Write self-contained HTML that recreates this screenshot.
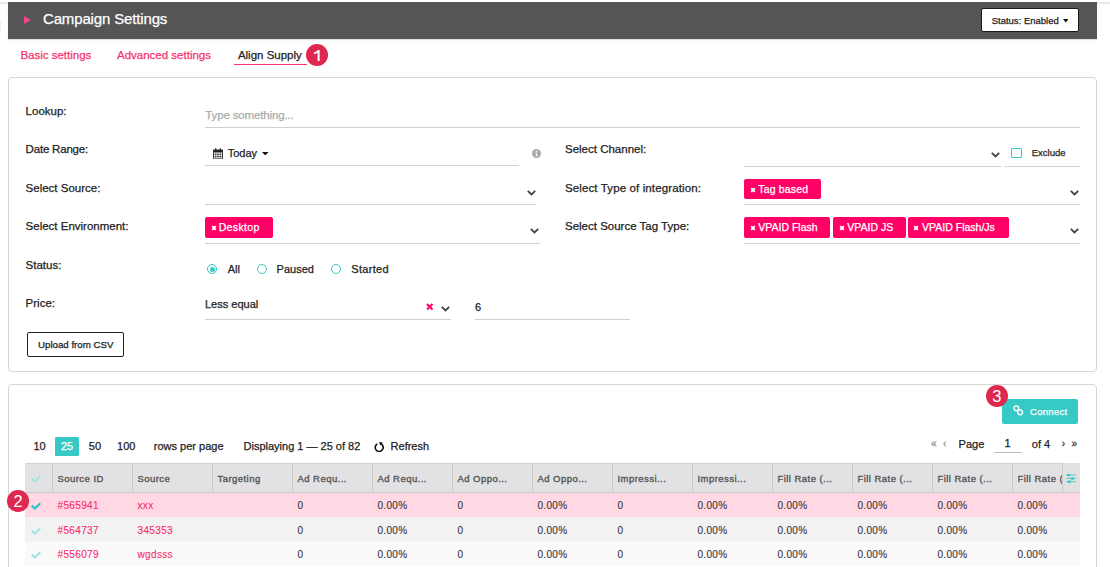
<!DOCTYPE html>
<html><head><meta charset="utf-8"><title>Campaign Settings</title>
<style>
html,body{margin:0;padding:0;background:#fff;width:1110px;height:567px;overflow:hidden;position:relative;font-family:"Liberation Sans",sans-serif}
.t{position:absolute;line-height:1;white-space:nowrap}
.r{position:absolute}
.badge{position:absolute;background:#dd2850;color:#fff;border-radius:50%;text-align:center;font-size:15px;font-weight:bold;font-family:"Liberation Sans",sans-serif}
</style></head><body>
<div class="r" style="left:0px;top:2px;width:1110px;height:3px;background:linear-gradient(#e3e3e3,#fbfbfb)"></div>
<div class="r" style="left:0px;top:20px;width:1px;height:12px;background:#f0f0f0"></div>
<div class="r" style="left:8px;top:2px;width:1089px;height:36.5px;background:#555;box-shadow:0 1px 1px rgba(0,0,0,0.12)"></div>
<svg class="r" style="left:24px;top:16px" width="7" height="8" viewBox="0 0 7 8"><path d="M0 0L7 4L0 8Z" fill="#f0468c"/></svg>
<div class="t" style="left:43px;top:11px;font-size:15px;color:#fff;font-weight:normal;-webkit-text-stroke:0.25px #fff;letter-spacing:-0.15px">Campaign Settings</div>
<div class="r" style="left:981px;top:8px;width:97.5px;height:23.5px;background:#fff;border:1.5px solid #1a1a1a;border-radius:2px;box-sizing:border-box"></div>
<div class="t" style="left:991.7px;top:16px;font-size:9.5px;color:#222;font-weight:normal;-webkit-text-stroke:0.25px #222;">Status: Enabled</div>
<svg class="r" style="left:1062.5px;top:19px" width="5.5" height="4" viewBox="0 0 5.5 4"><path d="M0 0H5.5L2.75 3.5Z" fill="#111"/></svg>
<div class="t" style="left:20.4px;top:50px;font-size:11.5px;color:#f5336f;font-weight:normal;-webkit-text-stroke:0.25px #f5336f;">Basic settings</div>
<div class="t" style="left:117px;top:50px;font-size:11.5px;color:#f5336f;font-weight:normal;-webkit-text-stroke:0.25px #f5336f;">Advanced settings</div>
<div class="t" style="left:237.9px;top:50px;font-size:11.5px;color:#222;font-weight:normal;-webkit-text-stroke:0.25px #222;">Align Supply</div>
<div class="r" style="left:234px;top:63.5px;width:73px;height:1.5px;background:#f5336f"></div>
<div class="r" style="left:306.0px;top:44.0px;width:22px;height:22px;background:#dd2850;border-radius:50%"></div>
<div class="t" style="left:307px;width:20px;text-align:center;top:47px;font-size:16.5px;color:#fff"></div>
<svg class="r" style="left:312px;top:49px" width="10" height="13" viewBox="0 0 10 13"><path d="M6.6 1 V12" stroke="#fff" stroke-width="2"/><path d="M7.2 0.9 L1.6 3.8 L2.3 5.2 L6.2 3.4Z" fill="#fff"/></svg>
<div class="r" style="left:8px;top:77px;width:1089px;height:295px;border:1px solid #d6d6d6;border-radius:4px;box-sizing:border-box"></div>
<div class="t" style="left:25.6px;top:106px;font-size:11.5px;color:#222;font-weight:normal;-webkit-text-stroke:0.25px #222;">Lookup:</div>
<div class="t" style="left:25.6px;top:144px;font-size:11.5px;color:#222;font-weight:normal;-webkit-text-stroke:0.25px #222;letter-spacing:-0.2px">Date Range:</div>
<div class="t" style="left:25.6px;top:183px;font-size:11.5px;color:#222;font-weight:normal;-webkit-text-stroke:0.25px #222;">Select Source:</div>
<div class="t" style="left:25.6px;top:221px;font-size:11.5px;color:#222;font-weight:normal;-webkit-text-stroke:0.25px #222;">Select Environment:</div>
<div class="t" style="left:25.6px;top:260px;font-size:11.5px;color:#222;font-weight:normal;-webkit-text-stroke:0.25px #222;">Status:</div>
<div class="t" style="left:25.6px;top:298px;font-size:11.5px;color:#222;font-weight:normal;-webkit-text-stroke:0.25px #222;">Price:</div>
<div class="t" style="left:565px;top:144px;font-size:11.5px;color:#222;font-weight:normal;-webkit-text-stroke:0.25px #222;">Select Channel:</div>
<div class="t" style="left:565px;top:183px;font-size:11.5px;color:#222;font-weight:normal;-webkit-text-stroke:0.25px #222;letter-spacing:0.12px">Select Type of integration:</div>
<div class="t" style="left:565px;top:221px;font-size:11.5px;color:#222;font-weight:normal;-webkit-text-stroke:0.25px #222;">Select Source Tag Type:</div>
<div class="r" style="left:205px;top:127px;width:875px;height:1px;background:#d0d0d0"></div>
<div class="t" style="left:205.3px;top:110px;font-size:11.5px;color:#aaa;font-weight:normal;-webkit-text-stroke:0.25px #aaa;letter-spacing:-0.15px">Type something...</div>
<div class="r" style="left:205px;top:165px;width:314px;height:1px;background:#d0d0d0"></div>
<svg class="r" style="left:213px;top:147.5px" width="10" height="11.5" viewBox="0 0 10 11.5"><rect x="0.5" y="2" width="9" height="9" fill="none" stroke="#333" stroke-width="0.9"/><rect x="0.5" y="2" width="9" height="2.4" fill="#222"/><path d="M0.5 6.3H9.5M0.5 8.6H9.5M2.75 4.2V11M5 4.2V11M7.25 4.2V11" stroke="#444" stroke-width="0.7"/><path d="M2.7 0.3V2.6M7.3 0.3V2.6" stroke="#222" stroke-width="1.3"/></svg>
<div class="t" style="left:227.7px;top:148px;font-size:11px;color:#222;font-weight:normal;-webkit-text-stroke:0.25px #222;">Today</div>
<svg class="r" style="left:262.2px;top:151.9px" width="6.5" height="3.5" viewBox="0 0 6.5 3.5"><path d="M0 0H6.5L3.25 3.5Z" fill="#111"/></svg>
<svg class="r" style="left:531.8px;top:148.9px" width="9" height="9" viewBox="0 0 9 9"><circle cx="4.5" cy="4.5" r="4.5" fill="#aaa"/><path d="M3.5 3.6H5.1V6.6H5.6V7.3H3.4V6.6H3.9V4.3H3.5Z" fill="#f4f4f4"/><circle cx="4.5" cy="2.3" r="0.8" fill="#f4f4f4"/></svg>
<div class="r" style="left:744px;top:166px;width:257px;height:1px;background:#d0d0d0"></div>
<svg class="r" style="left:990.0px;top:150.8px" width="11" height="7.2" viewBox="-1 -1 11 7.2"><path d="M0.8 0.8 L4.5 4.4 L8.2 0.8" fill="none" stroke="#444" stroke-width="1.8"/></svg>
<div class="r" style="left:1011px;top:148.3px;width:11px;height:10.0px;border:1px solid #36c9c6;border-radius:1px;box-sizing:border-box"></div>
<div class="t" style="left:1031.7px;top:148px;font-size:9.5px;color:#222;font-weight:normal;-webkit-text-stroke:0.25px #222;">Exclude</div>
<div class="r" style="left:1005px;top:166px;width:75px;height:1px;background:#d0d0d0"></div>
<div class="r" style="left:205px;top:204px;width:331px;height:1px;background:#d0d0d0"></div>
<svg class="r" style="left:525.5px;top:188.6px" width="11" height="7.2" viewBox="-1 -1 11 7.2"><path d="M0.8 0.8 L4.5 4.4 L8.2 0.8" fill="none" stroke="#444" stroke-width="1.8"/></svg>
<div class="r" style="left:205px;top:243px;width:335px;height:1px;background:#d0d0d0"></div>
<svg class="r" style="left:529.2px;top:227.1px" width="11" height="7.2" viewBox="-1 -1 11 7.2"><path d="M0.8 0.8 L4.5 4.4 L8.2 0.8" fill="none" stroke="#444" stroke-width="1.8"/></svg>
<div class="r" style="left:205.2px;top:217.3px;width:67.80000000000001px;height:20.599999999999994px;background:#ff0066;border-radius:2px"></div>
<svg class="r" style="left:210.5px;top:225.20000000000002px" width="6" height="6" viewBox="0 0 6 6"><path d="M1.2 1.2L4.8 4.8M4.8 1.2L1.2 4.8" stroke="#fff" stroke-width="1.9"/></svg>
<div class="t" style="left:218.7px;top:222px;font-size:10.5px;color:#fff;font-weight:normal;-webkit-text-stroke:0.25px #fff;letter-spacing:0.35px">Desktop</div>
<div class="r" style="left:744px;top:204px;width:336px;height:1px;background:#d0d0d0"></div>
<svg class="r" style="left:1068.5px;top:188.8px" width="11" height="7.2" viewBox="-1 -1 11 7.2"><path d="M0.8 0.8 L4.5 4.4 L8.2 0.8" fill="none" stroke="#444" stroke-width="1.8"/></svg>
<div class="r" style="left:744.2px;top:179.2px;width:76.59999999999991px;height:19.700000000000017px;background:#ff0066;border-radius:2px"></div>
<svg class="r" style="left:749.5px;top:186.65px" width="6" height="6" viewBox="0 0 6 6"><path d="M1.2 1.2L4.8 4.8M4.8 1.2L1.2 4.8" stroke="#fff" stroke-width="1.9"/></svg>
<div class="t" style="left:758.3px;top:184px;font-size:10.5px;color:#fff;font-weight:normal;-webkit-text-stroke:0.25px #fff;letter-spacing:0.17px">Tag based</div>
<div class="r" style="left:744px;top:243px;width:336px;height:1px;background:#d0d0d0"></div>
<svg class="r" style="left:1068.5px;top:227.20000000000002px" width="11" height="7.2" viewBox="-1 -1 11 7.2"><path d="M0.8 0.8 L4.5 4.4 L8.2 0.8" fill="none" stroke="#444" stroke-width="1.8"/></svg>
<div class="r" style="left:744.2px;top:217.3px;width:85.39999999999998px;height:20.399999999999977px;background:#ff0066;border-radius:2px"></div>
<svg class="r" style="left:749.5px;top:225.1px" width="6" height="6" viewBox="0 0 6 6"><path d="M1.2 1.2L4.8 4.8M4.8 1.2L1.2 4.8" stroke="#fff" stroke-width="1.9"/></svg>
<div class="t" style="left:758.3px;top:222px;font-size:10.5px;color:#fff;font-weight:normal;-webkit-text-stroke:0.25px #fff;letter-spacing:0px">VPAID Flash</div>
<div class="r" style="left:833.2px;top:217.3px;width:72.59999999999991px;height:20.399999999999977px;background:#ff0066;border-radius:2px"></div>
<svg class="r" style="left:838.5px;top:225.1px" width="6" height="6" viewBox="0 0 6 6"><path d="M1.2 1.2L4.8 4.8M4.8 1.2L1.2 4.8" stroke="#fff" stroke-width="1.9"/></svg>
<div class="t" style="left:847.3px;top:222px;font-size:10.5px;color:#fff;font-weight:normal;-webkit-text-stroke:0.25px #fff;letter-spacing:0px">VPAID JS</div>
<div class="r" style="left:908px;top:217.3px;width:100.70000000000005px;height:20.399999999999977px;background:#ff0066;border-radius:2px"></div>
<svg class="r" style="left:913.3px;top:225.1px" width="6" height="6" viewBox="0 0 6 6"><path d="M1.2 1.2L4.8 4.8M4.8 1.2L1.2 4.8" stroke="#fff" stroke-width="1.9"/></svg>
<div class="t" style="left:922.1px;top:222px;font-size:10.5px;color:#fff;font-weight:normal;-webkit-text-stroke:0.25px #fff;letter-spacing:0px">VPAID Flash/Js</div>
<div class="r" style="left:207.0px;top:264.0px;width:8.2px;height:8.2px;border:1.4px solid #36c9c6;border-radius:50%"></div>
<div class="r" style="left:209.9px;top:266.9px;width:5.2px;height:5.2px;background:#36c9c6;border-radius:50%"></div>
<div class="r" style="left:257.0px;top:264.0px;width:8.2px;height:8.2px;border:1.4px solid #36c9c6;border-radius:50%"></div>
<div class="r" style="left:331.0px;top:264.0px;width:8.2px;height:8.2px;border:1.4px solid #36c9c6;border-radius:50%"></div>
<div class="t" style="left:227.7px;top:264px;font-size:11px;color:#222;font-weight:normal;-webkit-text-stroke:0.25px #222;">All</div>
<div class="t" style="left:276.6px;top:264px;font-size:11px;color:#222;font-weight:normal;-webkit-text-stroke:0.25px #222;">Paused</div>
<div class="t" style="left:351.3px;top:264px;font-size:11px;color:#222;font-weight:normal;-webkit-text-stroke:0.25px #222;letter-spacing:0.3px">Started</div>
<div class="t" style="left:205px;top:299px;font-size:11px;color:#222;font-weight:normal;-webkit-text-stroke:0.25px #222;">Less equal</div>
<div class="r" style="left:205px;top:319px;width:246px;height:1px;background:#d0d0d0"></div>
<svg class="r" style="left:425.5px;top:303px" width="7.5" height="7.5" viewBox="0 0 7.5 7.5"><path d="M1 1L6.5 6.5M6.5 1L1 6.5" stroke="#ff0066" stroke-width="2"/></svg>
<svg class="r" style="left:439.7px;top:304.9px" width="11" height="7.2" viewBox="-1 -1 11 7.2"><path d="M0.8 0.8 L4.5 4.4 L8.2 0.8" fill="none" stroke="#444" stroke-width="1.8"/></svg>
<div class="t" style="left:475px;top:302px;font-size:11px;color:#222;font-weight:normal;-webkit-text-stroke:0.25px #222;">6</div>
<div class="r" style="left:475px;top:319px;width:155px;height:1px;background:#d0d0d0"></div>
<div class="r" style="left:27px;top:332px;width:97px;height:25px;border:1.5px solid #222;border-radius:2px;box-sizing:border-box"></div>
<div class="t" style="left:38px;top:340px;font-size:9.7px;color:#222;font-weight:normal;-webkit-text-stroke:0.25px #222;">Upload from CSV</div>
<div class="r" style="left:8px;top:384px;width:1089px;height:216px;border:1px solid #d6d6d6;border-radius:4px;box-sizing:border-box"></div>
<div class="r" style="left:1002px;top:399px;width:76px;height:25px;background:#36c9c6;border-radius:2px"></div>
<svg class="r" style="left:1012.5px;top:405px" width="11" height="11" viewBox="0 0 11 11"><circle cx="3.3" cy="3.3" r="2.4" fill="none" stroke="#fff" stroke-width="1.4"/><circle cx="7.1" cy="7.3" r="2.4" fill="none" stroke="#fff" stroke-width="1.4"/></svg>
<div class="t" style="left:1030px;top:407px;font-size:9.5px;color:#fff;font-weight:normal;-webkit-text-stroke:0.25px #fff;letter-spacing:0.3px">Connect</div>
<div class="r" style="left:985.8px;top:385.0px;width:22px;height:22px;background:#dd2850;border-radius:50%"></div>
<div class="t" style="left:986.8px;width:20px;text-align:center;top:388px;font-size:16.5px;color:#fff">3</div>
<div class="t" style="left:33.5px;top:441px;font-size:11px;color:#222;font-weight:normal;-webkit-text-stroke:0.25px #222;">10</div>
<div class="r" style="left:55.3px;top:437.3px;width:23.700000000000003px;height:18.5px;background:#36c9c6;border-radius:1px"></div>
<div class="t" style="left:61px;top:441px;font-size:11px;color:#fff;font-weight:normal;-webkit-text-stroke:0.25px #fff;">25</div>
<div class="t" style="left:88.8px;top:441px;font-size:11px;color:#222;font-weight:normal;-webkit-text-stroke:0.25px #222;">50</div>
<div class="t" style="left:117.1px;top:441px;font-size:11px;color:#222;font-weight:normal;-webkit-text-stroke:0.25px #222;">100</div>
<div class="t" style="left:153.8px;top:441px;font-size:11px;color:#222;font-weight:normal;-webkit-text-stroke:0.25px #222;">rows per page</div>
<div class="t" style="left:243.5px;top:441px;font-size:11px;color:#222;font-weight:normal;-webkit-text-stroke:0.25px #222;">Displaying 1 &#8212; 25 of 82</div>
<svg class="r" style="left:373.5px;top:441.5px" width="11" height="10.5" viewBox="0 0 11 10.5"><path d="M6.2 1.6 A4 4 0 1 1 3.2 2.0" fill="none" stroke="#111" stroke-width="1.6"/><path d="M5.2 0 L8.8 0.6 L6.2 3.6Z" fill="#111"/></svg>
<div class="t" style="left:390.6px;top:441px;font-size:11px;color:#222;font-weight:normal;-webkit-text-stroke:0.25px #222;">Refresh</div>
<div class="t" style="left:931px;top:439px;font-size:10px;color:#888;font-weight:normal;-webkit-text-stroke:0.25px #888;">&#171;</div>
<div class="t" style="left:943px;top:439px;font-size:10px;color:#888;font-weight:normal;-webkit-text-stroke:0.25px #888;">&#8249;</div>
<div class="t" style="left:958.6px;top:439px;font-size:11px;color:#222;font-weight:normal;-webkit-text-stroke:0.25px #222;">Page</div>
<div class="t" style="left:1004.5px;top:438px;font-size:11px;color:#222;font-weight:normal;-webkit-text-stroke:0.25px #222;">1</div>
<div class="r" style="left:994px;top:452px;width:28px;height:1px;background:#bbb"></div>
<div class="t" style="left:1031.8px;top:439px;font-size:11px;color:#222;font-weight:normal;-webkit-text-stroke:0.25px #222;">of 4</div>
<div class="t" style="left:1061.7px;top:439px;font-size:10px;color:#333;font-weight:normal;-webkit-text-stroke:0.25px #333;">&#8250;</div>
<div class="t" style="left:1071.6px;top:439px;font-size:10px;color:#333;font-weight:normal;-webkit-text-stroke:0.25px #333;">&#187;</div>
<div class="r" style="left:25px;top:463px;width:1055px;height:30px;background:#e2e2e4;border-top:1px solid #d2d2d4;border-bottom:1px solid #c9c9cb;box-sizing:border-box"></div>
<div class="r" style="left:52.0px;top:463px;width:1.0px;height:30px;background:#c9c9cb"></div>
<div class="r" style="left:132.0px;top:463px;width:1.0px;height:30px;background:#c9c9cb"></div>
<div class="r" style="left:212.0px;top:463px;width:1.0px;height:30px;background:#c9c9cb"></div>
<div class="r" style="left:292.0px;top:463px;width:1.0px;height:30px;background:#c9c9cb"></div>
<div class="r" style="left:372.0px;top:463px;width:1.0px;height:30px;background:#c9c9cb"></div>
<div class="r" style="left:452.0px;top:463px;width:1.0px;height:30px;background:#c9c9cb"></div>
<div class="r" style="left:532.0px;top:463px;width:1.0px;height:30px;background:#c9c9cb"></div>
<div class="r" style="left:612.0px;top:463px;width:1.0px;height:30px;background:#c9c9cb"></div>
<div class="r" style="left:692.0px;top:463px;width:1.0px;height:30px;background:#c9c9cb"></div>
<div class="r" style="left:772.0px;top:463px;width:1.0px;height:30px;background:#c9c9cb"></div>
<div class="r" style="left:852.0px;top:463px;width:1.0px;height:30px;background:#c9c9cb"></div>
<div class="r" style="left:932.0px;top:463px;width:1.0px;height:30px;background:#c9c9cb"></div>
<div class="r" style="left:1012.0px;top:463px;width:1.0px;height:30px;background:#c9c9cb"></div>
<div class="r" style="left:1062.0px;top:463px;width:1.0px;height:30px;background:#c9c9cb"></div>
<div class="r" style="left:1063px;top:463px;width:17px;height:29px;background:#e2e2e4"></div>
<div class="t" style="left:57.5px;top:474px;font-size:9.5px;color:#555;font-weight:normal;-webkit-text-stroke:0.25px #555;letter-spacing:0.45px;-webkit-text-stroke:0.35px #555">Source ID</div>
<div class="t" style="left:137.5px;top:474px;font-size:9.5px;color:#555;font-weight:normal;-webkit-text-stroke:0.25px #555;letter-spacing:0.45px;-webkit-text-stroke:0.35px #555">Source</div>
<div class="t" style="left:217.5px;top:474px;font-size:9.5px;color:#555;font-weight:normal;-webkit-text-stroke:0.25px #555;letter-spacing:0.45px;-webkit-text-stroke:0.35px #555">Targeting</div>
<div class="t" style="left:297.5px;top:474px;font-size:9.5px;color:#555;font-weight:normal;-webkit-text-stroke:0.25px #555;letter-spacing:0.45px;-webkit-text-stroke:0.35px #555">Ad Requ...</div>
<div class="t" style="left:377.5px;top:474px;font-size:9.5px;color:#555;font-weight:normal;-webkit-text-stroke:0.25px #555;letter-spacing:0.45px;-webkit-text-stroke:0.35px #555">Ad Requ...</div>
<div class="t" style="left:457.5px;top:474px;font-size:9.5px;color:#555;font-weight:normal;-webkit-text-stroke:0.25px #555;letter-spacing:0.45px;-webkit-text-stroke:0.35px #555">Ad Oppo...</div>
<div class="t" style="left:537.5px;top:474px;font-size:9.5px;color:#555;font-weight:normal;-webkit-text-stroke:0.25px #555;letter-spacing:0.45px;-webkit-text-stroke:0.35px #555">Ad Oppo...</div>
<div class="t" style="left:617.5px;top:474px;font-size:9.5px;color:#555;font-weight:normal;-webkit-text-stroke:0.25px #555;letter-spacing:0.45px;-webkit-text-stroke:0.35px #555">Impressi...</div>
<div class="t" style="left:697.5px;top:474px;font-size:9.5px;color:#555;font-weight:normal;-webkit-text-stroke:0.25px #555;letter-spacing:0.45px;-webkit-text-stroke:0.35px #555">Impressi...</div>
<div class="t" style="left:777.5px;top:474px;font-size:9.5px;color:#555;font-weight:normal;-webkit-text-stroke:0.25px #555;letter-spacing:0.45px;-webkit-text-stroke:0.35px #555">Fill Rate (...</div>
<div class="t" style="left:857.5px;top:474px;font-size:9.5px;color:#555;font-weight:normal;-webkit-text-stroke:0.25px #555;letter-spacing:0.45px;-webkit-text-stroke:0.35px #555">Fill Rate (...</div>
<div class="t" style="left:937.5px;top:474px;font-size:9.5px;color:#555;font-weight:normal;-webkit-text-stroke:0.25px #555;letter-spacing:0.45px;-webkit-text-stroke:0.35px #555">Fill Rate (...</div>
<div class="r" style="left:1017.5px;top:470px;width:44px;height:16px;overflow:hidden"><div class="t" style="left:0;top:4px;font-size:9.5px;color:#555;letter-spacing:0.45px;-webkit-text-stroke:0.35px #555">Fill Rate (...</div></div>
<svg class="r" style="left:31.2px;top:474.5px" width="10" height="8" viewBox="0 0 10 8"><path d="M0.8 3.6 L3.8 6.6 L9.3 1.2" fill="none" stroke="#a9e2e2" stroke-width="2.2"/></svg>
<svg class="r" style="left:1066px;top:474px" width="10" height="9" viewBox="0 0 10 9"><path d="M0 1H10M0 4.5H10M0 7.7H10" stroke="#36c9c6" stroke-width="1" opacity="0.8"/><circle cx="2.8" cy="1" r="1.5" fill="#36c9c6"/><circle cx="6.3" cy="4.5" r="1.5" fill="#36c9c6"/><circle cx="3.4" cy="7.7" r="1.5" fill="#36c9c6"/></svg>
<div class="r" style="left:25px;top:492.8px;width:1055px;height:24.400000000000034px;background:#ffd8e4"></div>
<svg class="r" style="left:31.2px;top:502.1px" width="10" height="8" viewBox="0 0 10 8"><path d="M0.8 3.6 L3.8 6.6 L9.3 1.2" fill="none" stroke="#2fc2c2" stroke-width="2.2"/></svg>
<div class="t" style="left:57.5px;top:501px;font-size:10px;color:#f72a6e;font-weight:normal;-webkit-text-stroke:0.25px #f72a6e;letter-spacing:0.35px;-webkit-text-stroke:0.1px #f72a6e">#565941</div>
<div class="t" style="left:137.5px;top:501px;font-size:10px;color:#f72a6e;font-weight:normal;-webkit-text-stroke:0.25px #f72a6e;letter-spacing:0.35px;-webkit-text-stroke:0.1px #f72a6e">xxx</div>
<div class="t" style="left:297.5px;top:501px;font-size:10px;color:#333;font-weight:normal;-webkit-text-stroke:0.25px #333;letter-spacing:0.3px;-webkit-text-stroke:0.1px #333">0</div>
<div class="t" style="left:377.5px;top:501px;font-size:10px;color:#333;font-weight:normal;-webkit-text-stroke:0.25px #333;letter-spacing:0.3px;-webkit-text-stroke:0.1px #333">0.00%</div>
<div class="t" style="left:457.5px;top:501px;font-size:10px;color:#333;font-weight:normal;-webkit-text-stroke:0.25px #333;letter-spacing:0.3px;-webkit-text-stroke:0.1px #333">0</div>
<div class="t" style="left:537.5px;top:501px;font-size:10px;color:#333;font-weight:normal;-webkit-text-stroke:0.25px #333;letter-spacing:0.3px;-webkit-text-stroke:0.1px #333">0.00%</div>
<div class="t" style="left:617.5px;top:501px;font-size:10px;color:#333;font-weight:normal;-webkit-text-stroke:0.25px #333;letter-spacing:0.3px;-webkit-text-stroke:0.1px #333">0</div>
<div class="t" style="left:697.5px;top:501px;font-size:10px;color:#333;font-weight:normal;-webkit-text-stroke:0.25px #333;letter-spacing:0.3px;-webkit-text-stroke:0.1px #333">0.00%</div>
<div class="t" style="left:777.5px;top:501px;font-size:10px;color:#333;font-weight:normal;-webkit-text-stroke:0.25px #333;letter-spacing:0.3px;-webkit-text-stroke:0.1px #333">0.00%</div>
<div class="t" style="left:857.5px;top:501px;font-size:10px;color:#333;font-weight:normal;-webkit-text-stroke:0.25px #333;letter-spacing:0.3px;-webkit-text-stroke:0.1px #333">0.00%</div>
<div class="t" style="left:937.5px;top:501px;font-size:10px;color:#333;font-weight:normal;-webkit-text-stroke:0.25px #333;letter-spacing:0.3px;-webkit-text-stroke:0.1px #333">0.00%</div>
<div class="t" style="left:1017.5px;top:501px;font-size:10px;color:#333;font-weight:normal;-webkit-text-stroke:0.25px #333;letter-spacing:0.3px;-webkit-text-stroke:0.1px #333">0.00%</div>
<div class="r" style="left:25px;top:517.2px;width:1055px;height:24.399999999999977px;background:#f2f2f2"></div>
<svg class="r" style="left:31.2px;top:526.5px" width="10" height="8" viewBox="0 0 10 8"><path d="M0.8 3.6 L3.8 6.6 L9.3 1.2" fill="none" stroke="#a9e2e2" stroke-width="2.2"/></svg>
<div class="t" style="left:57.5px;top:526px;font-size:10px;color:#f72a6e;font-weight:normal;-webkit-text-stroke:0.25px #f72a6e;letter-spacing:0.35px;-webkit-text-stroke:0.1px #f72a6e">#564737</div>
<div class="t" style="left:137.5px;top:526px;font-size:10px;color:#f72a6e;font-weight:normal;-webkit-text-stroke:0.25px #f72a6e;letter-spacing:0.35px;-webkit-text-stroke:0.1px #f72a6e">345353</div>
<div class="t" style="left:297.5px;top:526px;font-size:10px;color:#333;font-weight:normal;-webkit-text-stroke:0.25px #333;letter-spacing:0.3px;-webkit-text-stroke:0.1px #333">0</div>
<div class="t" style="left:377.5px;top:526px;font-size:10px;color:#333;font-weight:normal;-webkit-text-stroke:0.25px #333;letter-spacing:0.3px;-webkit-text-stroke:0.1px #333">0.00%</div>
<div class="t" style="left:457.5px;top:526px;font-size:10px;color:#333;font-weight:normal;-webkit-text-stroke:0.25px #333;letter-spacing:0.3px;-webkit-text-stroke:0.1px #333">0</div>
<div class="t" style="left:537.5px;top:526px;font-size:10px;color:#333;font-weight:normal;-webkit-text-stroke:0.25px #333;letter-spacing:0.3px;-webkit-text-stroke:0.1px #333">0.00%</div>
<div class="t" style="left:617.5px;top:526px;font-size:10px;color:#333;font-weight:normal;-webkit-text-stroke:0.25px #333;letter-spacing:0.3px;-webkit-text-stroke:0.1px #333">0</div>
<div class="t" style="left:697.5px;top:526px;font-size:10px;color:#333;font-weight:normal;-webkit-text-stroke:0.25px #333;letter-spacing:0.3px;-webkit-text-stroke:0.1px #333">0.00%</div>
<div class="t" style="left:777.5px;top:526px;font-size:10px;color:#333;font-weight:normal;-webkit-text-stroke:0.25px #333;letter-spacing:0.3px;-webkit-text-stroke:0.1px #333">0.00%</div>
<div class="t" style="left:857.5px;top:526px;font-size:10px;color:#333;font-weight:normal;-webkit-text-stroke:0.25px #333;letter-spacing:0.3px;-webkit-text-stroke:0.1px #333">0.00%</div>
<div class="t" style="left:937.5px;top:526px;font-size:10px;color:#333;font-weight:normal;-webkit-text-stroke:0.25px #333;letter-spacing:0.3px;-webkit-text-stroke:0.1px #333">0.00%</div>
<div class="t" style="left:1017.5px;top:526px;font-size:10px;color:#333;font-weight:normal;-webkit-text-stroke:0.25px #333;letter-spacing:0.3px;-webkit-text-stroke:0.1px #333">0.00%</div>
<div class="r" style="left:25px;top:541.6px;width:1055px;height:24.399999999999977px;background:#fafafa"></div>
<svg class="r" style="left:31.2px;top:550.9px" width="10" height="8" viewBox="0 0 10 8"><path d="M0.8 3.6 L3.8 6.6 L9.3 1.2" fill="none" stroke="#a9e2e2" stroke-width="2.2"/></svg>
<div class="t" style="left:57.5px;top:550px;font-size:10px;color:#f72a6e;font-weight:normal;-webkit-text-stroke:0.25px #f72a6e;letter-spacing:0.35px;-webkit-text-stroke:0.1px #f72a6e">#556079</div>
<div class="t" style="left:137.5px;top:550px;font-size:10px;color:#f72a6e;font-weight:normal;-webkit-text-stroke:0.25px #f72a6e;letter-spacing:0.35px;-webkit-text-stroke:0.1px #f72a6e">wgdsss</div>
<div class="t" style="left:297.5px;top:550px;font-size:10px;color:#333;font-weight:normal;-webkit-text-stroke:0.25px #333;letter-spacing:0.3px;-webkit-text-stroke:0.1px #333">0</div>
<div class="t" style="left:377.5px;top:550px;font-size:10px;color:#333;font-weight:normal;-webkit-text-stroke:0.25px #333;letter-spacing:0.3px;-webkit-text-stroke:0.1px #333">0.00%</div>
<div class="t" style="left:457.5px;top:550px;font-size:10px;color:#333;font-weight:normal;-webkit-text-stroke:0.25px #333;letter-spacing:0.3px;-webkit-text-stroke:0.1px #333">0</div>
<div class="t" style="left:537.5px;top:550px;font-size:10px;color:#333;font-weight:normal;-webkit-text-stroke:0.25px #333;letter-spacing:0.3px;-webkit-text-stroke:0.1px #333">0.00%</div>
<div class="t" style="left:617.5px;top:550px;font-size:10px;color:#333;font-weight:normal;-webkit-text-stroke:0.25px #333;letter-spacing:0.3px;-webkit-text-stroke:0.1px #333">0</div>
<div class="t" style="left:697.5px;top:550px;font-size:10px;color:#333;font-weight:normal;-webkit-text-stroke:0.25px #333;letter-spacing:0.3px;-webkit-text-stroke:0.1px #333">0.00%</div>
<div class="t" style="left:777.5px;top:550px;font-size:10px;color:#333;font-weight:normal;-webkit-text-stroke:0.25px #333;letter-spacing:0.3px;-webkit-text-stroke:0.1px #333">0.00%</div>
<div class="t" style="left:857.5px;top:550px;font-size:10px;color:#333;font-weight:normal;-webkit-text-stroke:0.25px #333;letter-spacing:0.3px;-webkit-text-stroke:0.1px #333">0.00%</div>
<div class="t" style="left:937.5px;top:550px;font-size:10px;color:#333;font-weight:normal;-webkit-text-stroke:0.25px #333;letter-spacing:0.3px;-webkit-text-stroke:0.1px #333">0.00%</div>
<div class="t" style="left:1017.5px;top:550px;font-size:10px;color:#333;font-weight:normal;-webkit-text-stroke:0.25px #333;letter-spacing:0.3px;-webkit-text-stroke:0.1px #333">0.00%</div>
<div class="r" style="left:7.25px;top:490.25px;width:21.5px;height:21.5px;background:#dd2850;border-radius:50%"></div>
<div class="t" style="left:8px;width:20px;text-align:center;top:493px;font-size:16.5px;color:#fff">2</div>
</body></html>
